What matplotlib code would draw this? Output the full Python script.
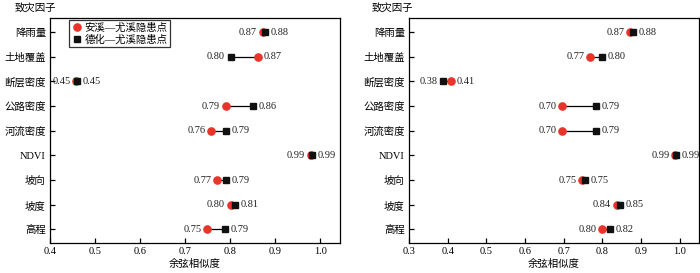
import matplotlib
matplotlib.use("Agg")
import matplotlib.pyplot as plt
from matplotlib.lines import Line2D

plt.rcParams['font.family'] = ['Liberation Serif', 'Noto Sans CJK SC', 'DejaVu Sans']

factors = ["降雨量", "土地覆盖", "断层密度", "公路密度", "河流密度", "NDVI", "坡向", "坡度", "高程"]

# Left panel
anxi_L = [0.872, 0.863, 0.458, 0.790, 0.758, 0.979, 0.771, 0.801, 0.749]
dehua_L = [0.878, 0.801, 0.460, 0.850, 0.790, 0.982, 0.790, 0.810, 0.788]
anxi_L_lab = ["0.87", "0.87", "0.45", "0.79", "0.76", "0.99", "0.77", "0.80", "0.75"]
dehua_L_lab = ["0.88", "0.80", "0.45", "0.86", "0.79", "0.99", "0.79", "0.81", "0.79"]

# Right panel
anxi_R = [0.872, 0.768, 0.409, 0.696, 0.696, 0.988, 0.747, 0.837, 0.799]
dehua_R = [0.880, 0.800, 0.389, 0.783, 0.783, 0.991, 0.756, 0.845, 0.819]
anxi_R_lab = ["0.87", "0.77", "0.41", "0.70", "0.70", "0.99", "0.75", "0.84", "0.80"]
dehua_R_lab = ["0.88", "0.80", "0.38", "0.79", "0.79", "0.99", "0.75", "0.85", "0.82"]

xticks_L = [0.4, 0.5, 0.6, 0.7, 0.8, 0.9, 1.0]
xticks_R = [0.3, 0.4, 0.5, 0.6, 0.7, 0.8, 0.9, 1.0]

legend_labels = ["安溪—尤溪隐患点", "德化—尤溪隐患点"]

RED = "#e8342a"
FS = 7.5

fig = plt.figure(figsize=(7.0, 2.73), dpi=100)
axL = fig.add_axes([50/700, 1-243/273, 290/700, 225/273])
axR = fig.add_axes([409/700, 1-243/273, 290/700, 225/273])


def draw(ax, a, d, alab, dlab, xticks, xlim):
    n = len(factors)
    ys = [n - 1 - i for i in range(n)]
    for y, va, vd, la, ld in zip(ys, a, d, alab, dlab):
        ax.plot([va, vd], [y, y], color="black", lw=0.9, zorder=1)
        if va <= vd:
            left_v, left_l, right_v, right_l = va, la, vd, ld
        else:
            left_v, left_l, right_v, right_l = vd, ld, va, la
        ax.annotate(left_l, (left_v, y), xytext=(-4, 0), textcoords="offset points",
                    ha="right", va="center", fontsize=FS, color="#222222")
        ax.annotate(right_l, (right_v, y), xytext=(4, 0), textcoords="offset points",
                    ha="left", va="center", fontsize=FS, color="#222222")
    ax.plot(a, ys, linestyle="none", marker="o", ms=5.2, color=RED, zorder=3)
    ax.plot(d, ys, linestyle="none", marker="s", ms=4.6, color="#111111", zorder=4)
    ax.set_yticks(ys)
    ax.set_yticklabels(factors, fontsize=FS)
    ax.set_ylim(-0.55, n - 1 + 0.57)
    ax.set_xlim(*xlim)
    ax.set_xticks(xticks)
    ax.set_xticklabels([f"{t:.1f}" for t in xticks], fontsize=FS)
    ax.tick_params(direction="in", length=3.5, width=0.9, pad=3)
    for s in ax.spines.values():
        s.set_linewidth(0.9)
    ax.set_xlabel("余弦相似度", fontsize=FS, labelpad=2)


draw(axL, anxi_L, dehua_L, anxi_L_lab, dehua_L_lab, xticks_L, (0.4, 1.044))
draw(axR, anxi_R, dehua_R, anxi_R_lab, dehua_R_lab, xticks_R, (0.3, 1.05))

handles = [Line2D([], [], linestyle="none", marker="o", ms=5.2, color=RED),
           Line2D([], [], linestyle="none", marker="s", ms=4.6, color="#111111")]
leg = axL.legend(handles, legend_labels, loc="upper left", bbox_to_anchor=(0.06, 1.0),
                 fontsize=FS, frameon=True, fancybox=False, edgecolor="black",
                 borderpad=0.25, handletextpad=0.2, labelspacing=0.15, handlelength=1.0,
                 borderaxespad=0.2)
leg.get_frame().set_linewidth(0.9)

fig.text(15/700, 1-8/273, "致灾因子", fontsize=FS, va="center", ha="left")
fig.text(372/700, 1-8/273, "致灾因子", fontsize=FS, va="center", ha="left")

fig.savefig("out.png", dpi=100)
